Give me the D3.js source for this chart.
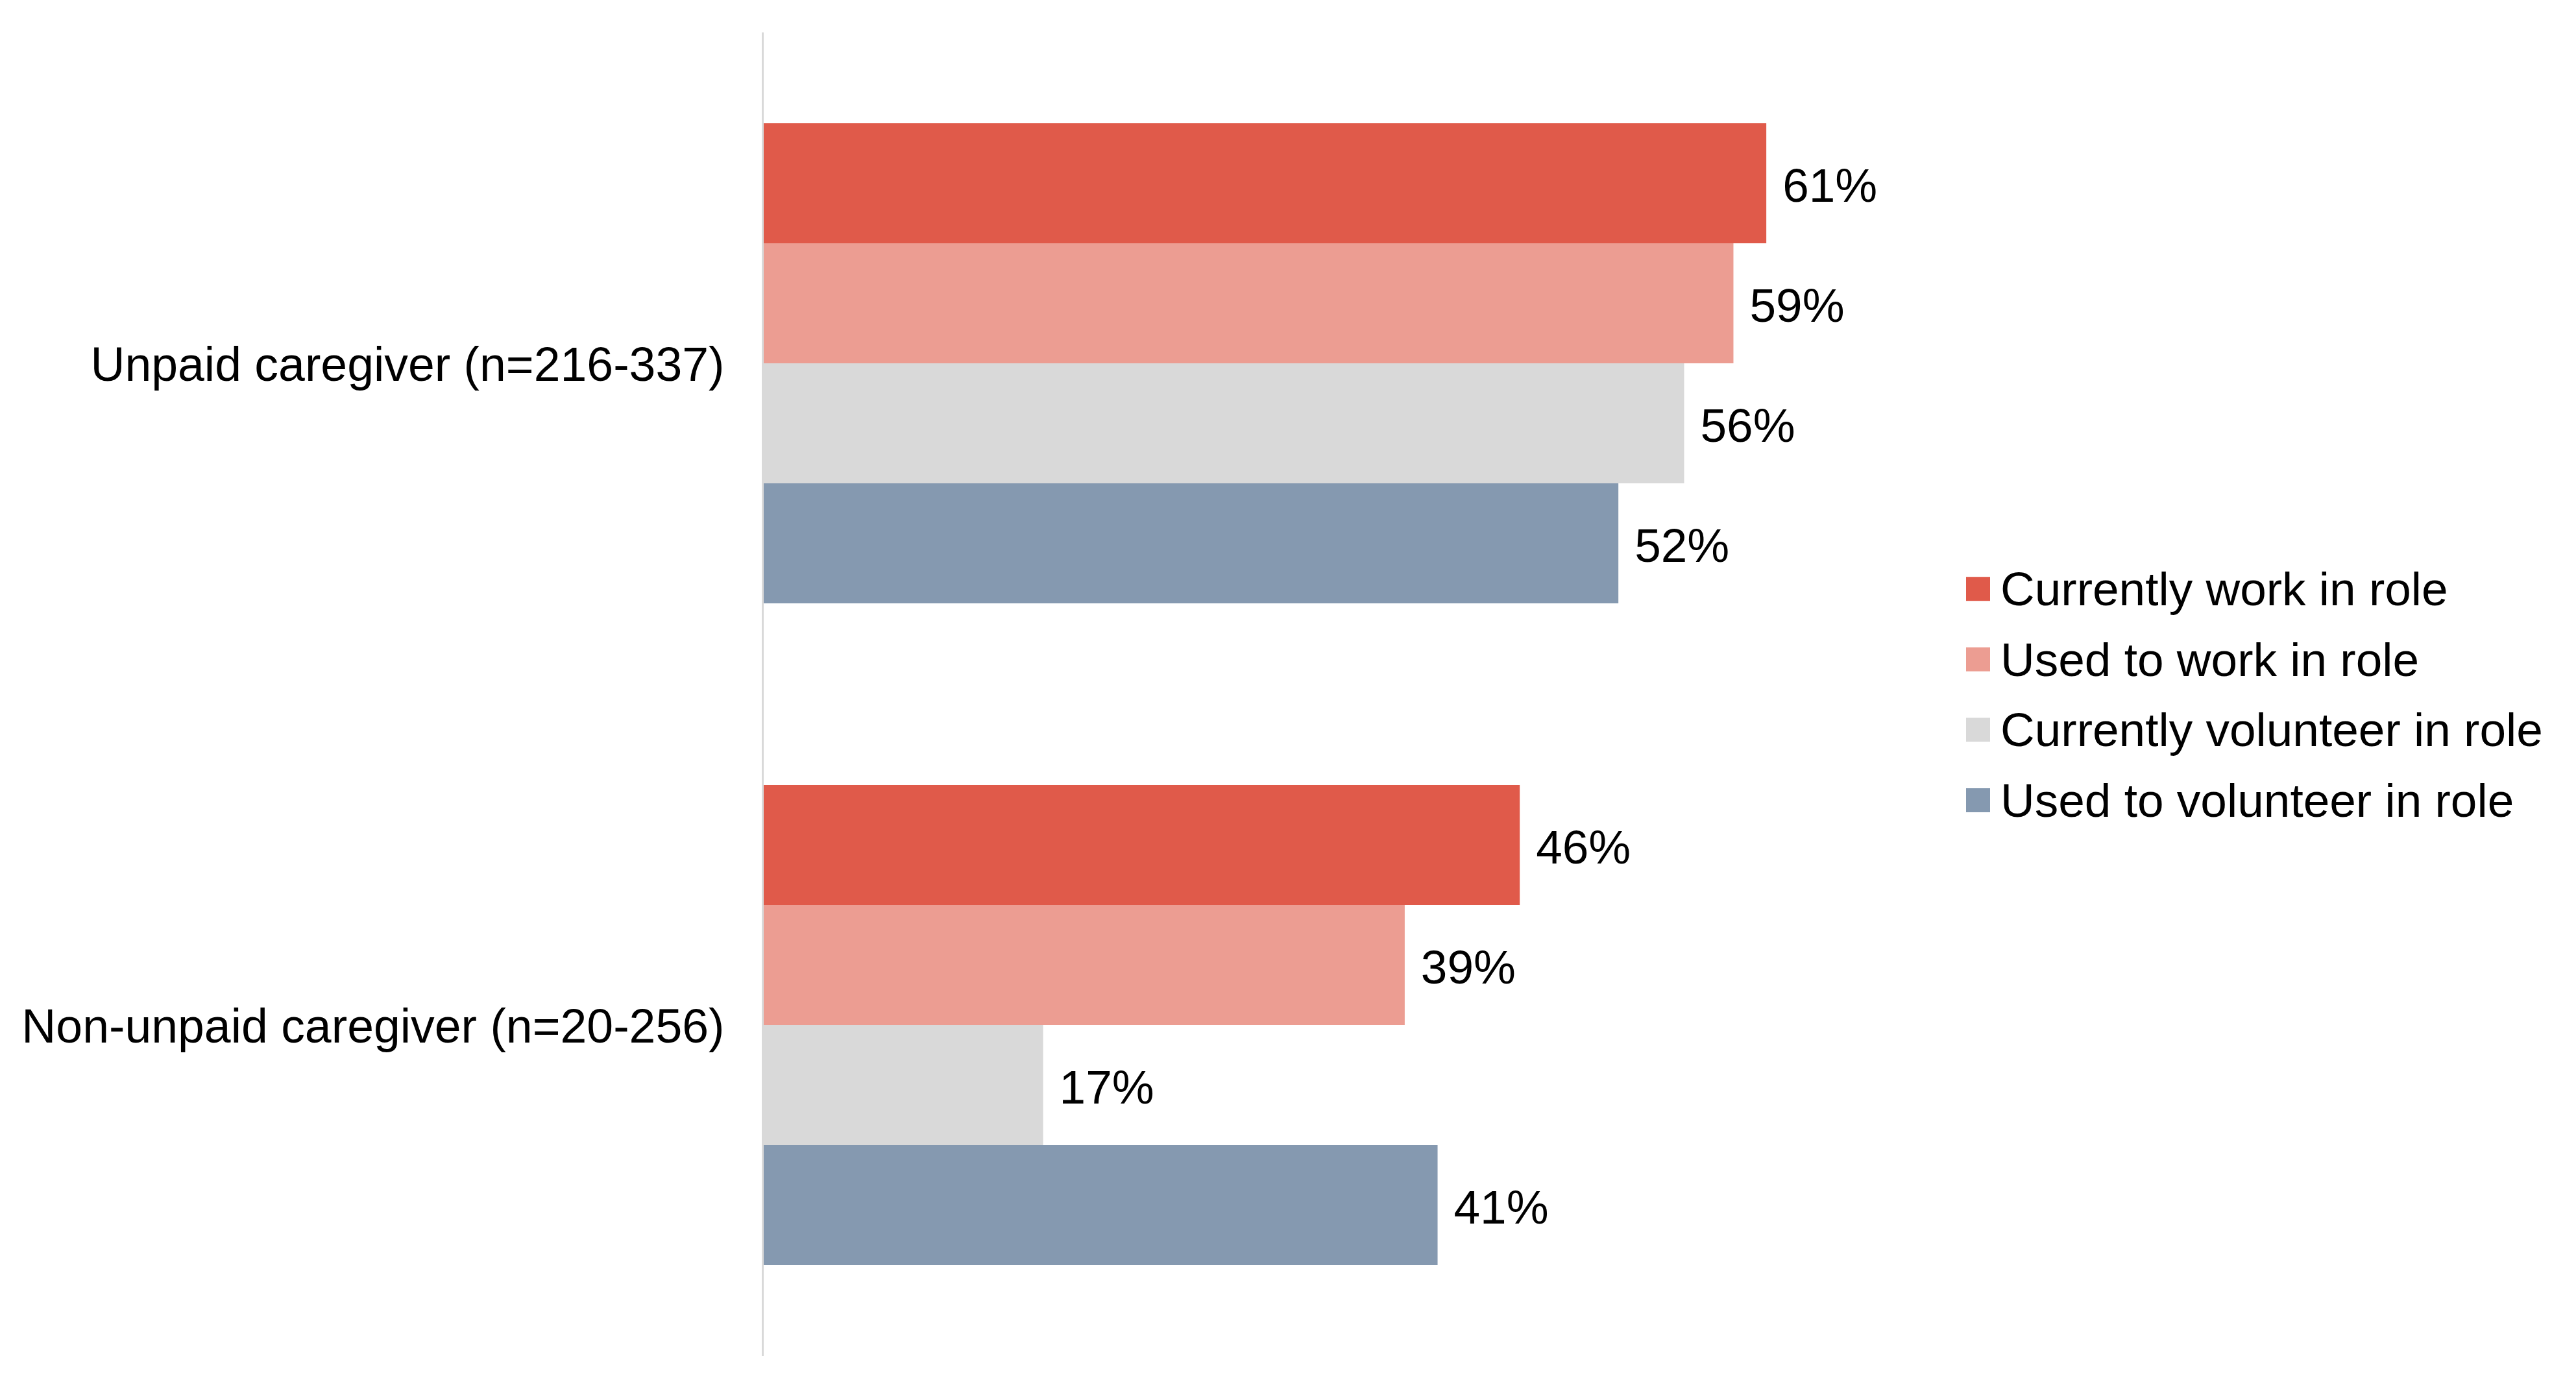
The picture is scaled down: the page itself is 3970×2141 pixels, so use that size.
<!DOCTYPE html>
<html>
<head>
<meta charset="utf-8">
<script src="https://cdn.jsdelivr.net/npm/d3@7"></script>
<style>
  html, body { margin: 0; padding: 0; background: #ffffff; }
  svg { display: block; }
  text { font-family: "Liberation Sans", Arial, Helvetica, sans-serif; fill: #000; }
</style>
</head>
<body>
<svg id="chart" width="3970" height="2141"></svg>
<script>
// ---- data ----
const categories = ["Unpaid caregiver (n=216-337)", "Non-unpaid caregiver (n=20-256)"];
const seriesNames = ["Currently work in role", "Used to work in role", "Currently volunteer in role", "Used to volunteer in role"];
const currentlyWork = [61, 46];
const usedToWork = [59, 39];
const currentlyVolunteer = [56, 17];
const usedToVolunteer = [52, 41];
const seriesColors = ["#E05A4A", "#EC9D92", "#D9D9D9", "#8599B0"];

const seriesValues = [currentlyWork, usedToWork, currentlyVolunteer, usedToVolunteer];

// ---- layout ----
const W = 3970, H = 2141;
const plotLeft = 1177, plotTop = 50, plotBottom = 2090;
const pxPerPct = 25.33;
const fontSize = 73;
const catFontSize = 73.4;

const svg = d3.select("#chart");

const x = d3.scaleLinear().domain([0, 100]).range([plotLeft, plotLeft + 100 * pxPerPct]);
const y0 = d3.scaleBand().domain(categories).range([plotTop, plotBottom])
  .paddingInner(0.2745).paddingOuter(0.13725);
const y1 = d3.scaleBand().domain(seriesNames).range([0, y0.bandwidth()]).padding(0);
const color = d3.scaleOrdinal().domain(seriesNames).range(seriesColors);

const rows = [];
categories.forEach((c, ci) => {
  seriesNames.forEach((s, si) => {
    rows.push({ cat: c, series: s, value: seriesValues[si][ci] });
  });
});

// bars
svg.append("g").selectAll("rect").data(rows).join("rect")
  .attr("x", x(0))
  .attr("y", d => y0(d.cat) + y1(d.series))
  .attr("width", d => x(d.value) - x(0))
  .attr("height", y1.bandwidth())
  .attr("fill", d => color(d.series));

// value labels
svg.append("g").selectAll("text").data(rows).join("text")
  .attr("x", d => x(d.value) + 25)
  .attr("y", d => y0(d.cat) + y1(d.series) + y1.bandwidth() / 2)
  .attr("dy", "0.39em")
  .style("font-size", fontSize + "px")
  .text(d => d.value + "%");

// category axis (left), line only
const yAxis = d3.axisLeft(y0).tickSize(0).tickPadding(59);
const axisG = svg.append("g")
  .attr("transform", `translate(${plotLeft - 1.5},0)`)
  .call(yAxis);
axisG.select(".domain").attr("stroke", "#D9D9D9").attr("stroke-width", 3)
  .attr("d", `M0,${plotTop}V${plotBottom}`);
axisG.selectAll(".tick text")
  .attr("dy", "0.37em")
  .style("font-size", catFontSize + "px")
  .style("font-family", '"Liberation Sans", Arial, Helvetica, sans-serif')
  .attr("fill", "#000");

// legend
const legendX = 3030, legendY0 = 907.7, legendStep = 108.6, sq = 37;
const leg = svg.append("g").selectAll("g").data(seriesNames).join("g")
  .attr("transform", (d, i) => `translate(${legendX},${legendY0 + i * legendStep})`);
leg.append("rect")
  .attr("x", 0).attr("y", -sq / 2)
  .attr("width", sq).attr("height", sq)
  .attr("fill", d => color(d));
leg.append("text")
  .attr("x", 53)
  .attr("y", 0)
  .attr("dy", "0.35em")
  .style("font-size", fontSize + "px")
  .text(d => d);
</script>
</body>
</html>
